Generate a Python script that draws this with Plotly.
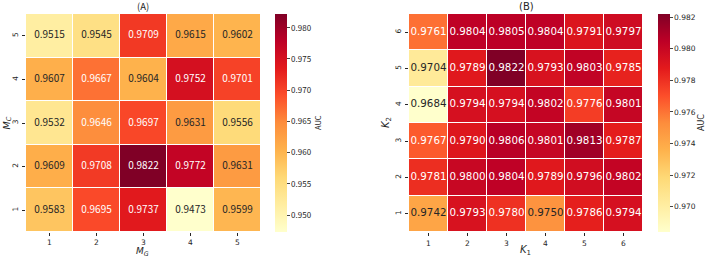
import plotly.graph_objects as go

# ---------------- data ----------------
mg_labels = [1, 2, 3, 4, 5]          # x of panel A
mc_labels = [1, 2, 3, 4, 5]          # y of panel A (bottom -> top)
auc_a = [  # rows: M_C = 1..5, cols: M_G = 1..5
    [0.9583, 0.9695, 0.9737, 0.9473, 0.9599],
    [0.9609, 0.9708, 0.9822, 0.9772, 0.9631],
    [0.9532, 0.9646, 0.9697, 0.9631, 0.9556],
    [0.9607, 0.9667, 0.9604, 0.9752, 0.9701],
    [0.9515, 0.9545, 0.9709, 0.9615, 0.9602],
]
k1_labels = [1, 2, 3, 4, 5, 6]       # x of panel B
k2_labels = [1, 2, 3, 4, 5, 6]       # y of panel B
auc_b = [  # rows: K_2 = 1..6, cols: K_1 = 1..6
    [0.9742, 0.9793, 0.9780, 0.9750, 0.9786, 0.9794],
    [0.9781, 0.9800, 0.9804, 0.9789, 0.9796, 0.9802],
    [0.9767, 0.9790, 0.9806, 0.9801, 0.9813, 0.9787],
    [0.9684, 0.9794, 0.9794, 0.9802, 0.9776, 0.9801],
    [0.9704, 0.9789, 0.9822, 0.9793, 0.9803, 0.9785],
    [0.9761, 0.9804, 0.9805, 0.9804, 0.9791, 0.9797],
]
cbar_ticks_a = [0.950, 0.955, 0.960, 0.965, 0.970, 0.975, 0.980]
cbar_ticks_b = [0.970, 0.972, 0.974, 0.976, 0.978, 0.980, 0.982]

# ---------------- style ----------------
YLORRD = ["#ffffcc", "#ffeda0", "#fed976", "#feb24c", "#fd8d3c",
          "#fc4e2a", "#e31a1c", "#bd0026", "#800026"]
colorscale = [[i / (len(YLORRD) - 1), c] for i, c in enumerate(YLORRD)]

W, H = 708, 258
FA = "Noto Sans CJK SC"
FB = "DejaVu Sans"


def hex2rgb(h):
    return [int(h[i:i + 2], 16) / 255 for i in (1, 3, 5)]


def cmap(t):
    t = min(max(t, 0), 1) * (len(YLORRD) - 1)
    i = min(int(t), len(YLORRD) - 2)
    f = t - i
    a, b = hex2rgb(YLORRD[i]), hex2rgb(YLORRD[i + 1])
    return [a[k] + (b[k] - a[k]) * f for k in range(3)]


def lum(rgb):
    lin = [c / 12.92 if c <= 0.03928 else ((c + 0.055) / 1.055) ** 2.4 for c in rgb]
    return 0.2126 * lin[0] + 0.7152 * lin[1] + 0.0722 * lin[2]


def text_trace(xs, ys, z, xa, ya, font, size):
    zmin = min(min(r) for r in z)
    zmax = max(max(r) for r in z)
    px, py, tx, tc = [], [], [], []
    for j, yv in enumerate(ys):
        for i, xv in enumerate(xs):
            v = z[j][i]
            px.append(xv)
            py.append(yv)
            tx.append(f"{v:.4f}")
            tc.append("white" if lum(cmap((v - zmin) / (zmax - zmin))) < 0.408 else "#262626")
    return go.Scatter(x=px, y=py, text=tx, mode="text", xaxis=xa, yaxis=ya,
                      textfont=dict(family=font, size=size, color=tc),
                      hoverinfo="skip", showlegend=False)


def px2x(p):
    return p / W


def px2y(p):
    return 1 - p / H


y0, y1 = px2y(232), px2y(14)

fig = go.Figure()
fig.add_trace(go.Heatmap(
    x=mg_labels, y=mc_labels, z=auc_a, colorscale=colorscale,
    zmin=min(min(r) for r in auc_a), zmax=max(max(r) for r in auc_a),
    xgap=1, ygap=1, xaxis="x", yaxis="y",
    colorbar=dict(x=px2x(275), xanchor="left", y=y0, yanchor="bottom",
                  len=218, lenmode="pixels", thickness=12, thicknessmode="pixels",
                  outlinewidth=0, ticks="outside", ticklen=3, tickwidth=0.8,
                  tickvals=cbar_ticks_a, ticktext=[f"{v:.3f}" for v in cbar_ticks_a],
                  tickfont=dict(family=FA, size=8, color="#262626"), xpad=0, ypad=0),
))
fig.add_trace(text_trace(mg_labels, mc_labels, auc_a, "x", "y", FA, 10))

fig.add_trace(go.Heatmap(
    x=k1_labels, y=k2_labels, z=auc_b, colorscale=colorscale,
    zmin=min(min(r) for r in auc_b), zmax=max(max(r) for r in auc_b),
    xgap=1, ygap=1, xaxis="x2", yaxis="y2",
    colorbar=dict(x=px2x(658), xanchor="left", y=y0, yanchor="bottom",
                  len=218, lenmode="pixels", thickness=12, thicknessmode="pixels",
                  outlinewidth=0, ticks="outside", ticklen=3, tickwidth=0.8,
                  tickvals=cbar_ticks_b, ticktext=[f"{v:.3f}" for v in cbar_ticks_b],
                  tickfont=dict(family=FB, size=7.5, color="#262626"), xpad=0, ypad=0),
))
fig.add_trace(text_trace(k1_labels, k2_labels, auc_b, "x2", "y2", FB, 10.3))

axcommon = dict(showgrid=False, zeroline=False, showline=False, ticks="outside",
                tickwidth=0.8, tickcolor="#262626")
tickf = dict(family=FB, size=7.5, color="#262626")
fig.update_layout(
    width=W, height=H, margin=dict(l=0, r=0, t=0, b=0),
    paper_bgcolor="white", plot_bgcolor="white",
    xaxis=dict(domain=[px2x(26), px2x(261)], range=[0.5, 5.5], tickvals=mg_labels,
               anchor="y", tickfont=tickf, ticklen=2.5, ticklabelstandoff=0, **axcommon),
    yaxis=dict(domain=[y0, y1], range=[0.5, 5.5], tickvals=mc_labels, anchor="x",
               tickangle=-90, tickfont=tickf, ticklen=3, ticklabelstandoff=1, **axcommon),
    xaxis2=dict(domain=[px2x(409), px2x(643)], range=[0.5, 6.5], tickvals=k1_labels,
                anchor="y2", tickfont=tickf, ticklen=3, ticklabelstandoff=1, **axcommon),
    yaxis2=dict(domain=[y0, y1], range=[0.5, 6.5], tickvals=k2_labels, anchor="x2",
                tickangle=-90, tickfont=tickf, ticklen=3, ticklabelstandoff=1, **axcommon),
)

ann = [
    dict(text="(A)", x=px2x(143), y=px2y(6), font=dict(family=FA, size=9.5)),
    dict(text="(B)", x=px2x(526), y=px2y(6), font=dict(family=FB, size=10)),
    dict(text="<i>M</i><sub><i>G</i></sub>", x=px2x(142), y=0, yanchor="bottom", font=dict(family=FB, size=9)),
    dict(text="<i>M</i><sub><i>C</i></sub>", x=0, xanchor="left", y=px2y(123), textangle=-90, font=dict(family=FB, size=9.5)),
    dict(text="<i>K</i><sub>1</sub>", x=px2x(525), y=0, yanchor="bottom", font=dict(family=FB, size=10)),
    dict(text="<i>K</i><sub>2</sub>", x=px2x(387), y=px2y(123), textangle=-90, font=dict(family=FB, size=10)),
    dict(text="AUC", x=px2x(318), y=px2y(123), textangle=-90, font=dict(family=FA, size=7.5)),
    dict(text="AUC", x=px2x(702), y=px2y(123), textangle=-90, font=dict(family=FB, size=8)),
]
for a in ann:
    a.setdefault("xanchor", "center")
    a.setdefault("yanchor", "middle")
    a.update(xref="paper", yref="paper", showarrow=False, borderpad=0)
    a["font"]["color"] = "#262626"
fig.update_layout(annotations=ann)

fig.write_html("out.html")
